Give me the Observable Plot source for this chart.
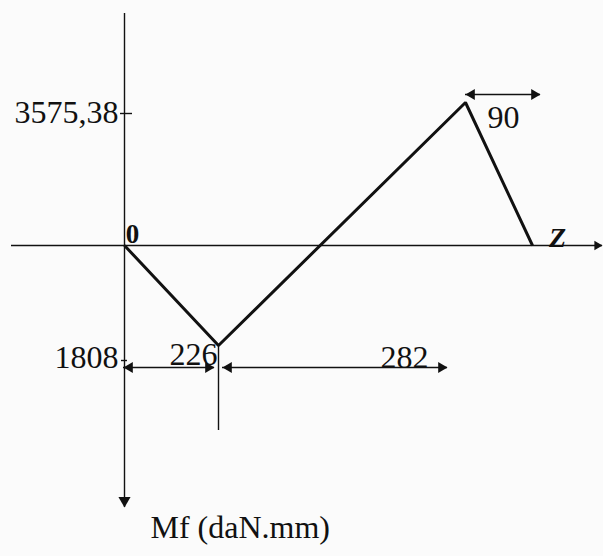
<!DOCTYPE html>
<html>
<head>
<meta charset="utf-8">
<script src="https://cdn.jsdelivr.net/npm/d3@7"></script>
<script src="https://cdn.jsdelivr.net/npm/@observablehq/plot@0.6"></script>
<style>
  html, body { margin: 0; padding: 0; background: #fbfbfb; }
</style>
</head>
<body>
<div id="chart"></div>
<script>
// Bending moment diagram Mf(z) of the shaft (daN.mm), sketched not to scale.
const spans = [226, 282, 90];                 // span lengths along z (mm)
const spanLabels = ["226", "282", "90"];
const moments = [0, -1808, 3575.38, 0];       // Mf at each support / load point
const momentTicks = [3575.38, -1808];
const momentTickLabels = ["3575,38", "1808"];
const axisLabelZ = "Z";
const axisLabelMf = "Mf (daN.mm)";
const originLabel = "0";

// abscissae of the points where Mf changes slope
const zPos = Array.from(d3.cumsum([0, ...spans]));   // 0, 226, 508, 598
const points = zPos.map((z, i) => ({z, mf: moments[i]}));

const ink = "#111";
const head = (opts) => Plot.dot([0], {symbol: "triangle", fill: ink, stroke: "none", ...opts});

// one dimension line with filled arrowheads and its label
function dimension(i, level, o) {
  const d = [{z1: zPos[i], z2: zPos[i + 1], y: level, label: spanLabels[i]}];
  const tip = 6.2;
  return [
    Plot.ruleY(d, {x1: "z1", x2: "z2", y: "y", stroke: ink, strokeWidth: 1.4,
      dy: o.dy, insetLeft: o.inL, insetRight: o.inR}),
    Plot.dot(d, {x: "z1", y: "y", symbol: "triangle", r: 4, rotate: -90, fill: ink, stroke: "none",
      dy: o.dy, dx: o.inL + tip}),
    Plot.dot(d, {x: "z2", y: "y", symbol: "triangle", r: 4, rotate: 90, fill: ink, stroke: "none",
      dy: o.dy, dx: -o.inR - tip}),
    Plot.text(d, {x: o.anchor === "start" ? "z1" : "z2", y: "y", text: "label",
      textAnchor: o.anchor, dx: o.tx, dy: o.ty, fill: ink})
  ];
}

const chart = Plot.plot({
  width: 603,
  height: 556,
  marginTop: 13,
  marginBottom: 49,
  marginLeft: 11,
  marginRight: 1,
  x: {type: "linear", domain: zPos, range: [124, 218, 465, 532], axis: null},
  y: {type: "linear", domain: [-1808, 0, 3575.38], range: [345, 245, 102], axis: null},
  style: {
    background: "#fbfbfb",
    color: ink,
    fontFamily: "'Liberation Serif', 'Times New Roman', serif",
    fontSize: "32px"
  },
  marks: [
    // axes
    Plot.ruleY([0], {stroke: ink, strokeWidth: 1.4}),
    head({y: (d) => d, frameAnchor: "right", r: 3.5, rotate: 90, dx: -5.4}),
    Plot.ruleX([0], {stroke: ink, strokeWidth: 1.4}),
    head({x: (d) => d, frameAnchor: "bottom", r: 4.5, rotate: 180, dy: -7}),

    // moment value ticks and labels
    Plot.ruleY([momentTicks[0]], {x1: 0, x2: 0, insetLeft: -4, insetRight: -8, dy: 11, stroke: ink, strokeWidth: 1.4}),
    Plot.ruleY([momentTicks[1]], {x1: 0, x2: 0, insetLeft: -3, insetRight: -3, dy: 15, stroke: ink, strokeWidth: 1.4}),
    Plot.text([0], {x: () => 0, y: () => momentTicks[0], text: () => momentTickLabels[0], textAnchor: "end", dx: -6, dy: 10}),
    Plot.text([0], {x: () => 0, y: () => momentTicks[1], text: () => momentTickLabels[1], textAnchor: "end", dx: -6, dy: 12}),

    // axis names
    Plot.text([0], {x: () => 0, y: () => 0, text: () => originLabel, fontWeight: "bold", fontSize: 27, dx: 8, dy: -11}),
    Plot.text([0], {x: () => zPos[3], y: () => 0, text: () => axisLabelZ, fontWeight: "bold", fontStyle: "italic", fontSize: 28, dx: 25, dy: -7}),
    Plot.text([0], {x: () => 0, frameAnchor: "bottom", text: () => axisLabelMf, textAnchor: "start", dx: 26, dy: 30}),

    // extension line below the minimum
    Plot.ruleX([zPos[1]], {y1: () => moments[1], y2: () => moments[1], insetBottom: -85, stroke: ink, strokeWidth: 1.4}),

    // dimension lines
    ...dimension(0, moments[1], {dy: 22, inL: -1, inR: 4, anchor: "end", tx: -1, ty: 9}),
    ...dimension(1, moments[1], {dy: 22, inL: 4, inR: 18, anchor: "end", tx: -37, ty: 12}),
    ...dimension(2, moments[2], {dy: -8, inL: 0, inR: -8, anchor: "start", tx: 22, ty: 15}),

    // the moment diagram
    Plot.line(points, {x: "z", y: "mf", stroke: ink, strokeWidth: 3, strokeLinejoin: "miter", strokeLinecap: "butt"})
  ]
});

document.getElementById("chart").append(chart);
</script>
</body>
</html>
